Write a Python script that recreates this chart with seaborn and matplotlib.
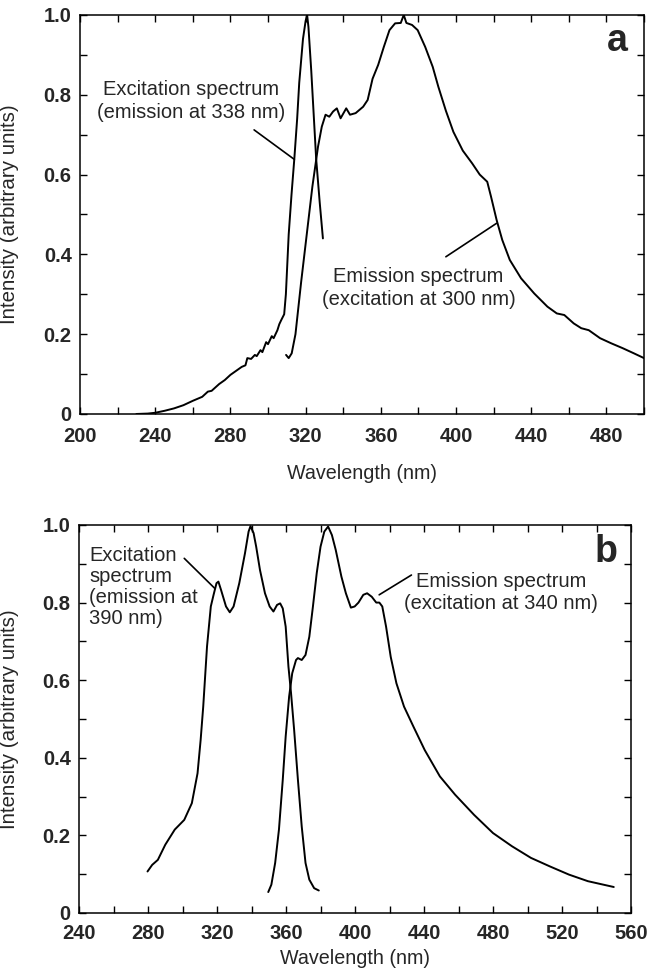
import pandas as pd
import seaborn as sns
import matplotlib.pyplot as plt
from matplotlib.ticker import MultipleLocator, FuncFormatter

# panel a: excitation (emission at 338 nm)
a_exc_x = [230, 236, 240, 245, 250, 255, 260, 265, 268, 270, 274, 277, 280, 283, 286, 288,
           289, 291, 293, 294, 296, 297, 299, 300, 302, 303, 305, 306, 307, 308.6, 309.5,
           311, 312.5, 314, 315.5, 316.6, 318.6, 320, 320.8, 321.5, 323, 325.6, 327.5, 329.2]
a_exc_y = [0.0, 0.001, 0.003, 0.008, 0.014, 0.022, 0.033, 0.043, 0.056, 0.058, 0.075, 0.085,
           0.098, 0.108, 0.118, 0.122, 0.14, 0.138, 0.148, 0.145, 0.16, 0.155, 0.18, 0.175,
           0.195, 0.19, 0.21, 0.225, 0.235, 0.25, 0.30, 0.45, 0.55, 0.64, 0.74, 0.83, 0.94,
           0.985, 1.0, 0.97, 0.86, 0.64, 0.53, 0.44]

# panel a: emission (excitation at 300 nm)
a_em_x = [309.6, 311, 312.6, 314.6, 317.6, 320.6, 323.6, 326.6, 328.6, 330.6, 332.6, 334.6,
          336.6, 338.6, 341.6, 343.6, 346.6, 350.6, 353, 355.6, 358.6, 361.6, 364.6, 367.6,
          370.6, 372.2, 373.6, 376.6, 379.6, 383.6, 387.6, 390.6, 394.6, 398.6, 403.6, 408.6,
          412.6, 416.6, 418.6, 421.6, 424.6, 428.6, 434.6, 441.6, 448.6, 453.6, 457.6, 462.6,
          466.6, 470.6, 476.6, 482.6, 488.6, 494.6, 500]
a_em_y = [0.148, 0.14, 0.152, 0.2, 0.33, 0.45, 0.57, 0.67, 0.72, 0.75, 0.745, 0.758, 0.766,
          0.741, 0.766, 0.75, 0.754, 0.77, 0.787, 0.84, 0.875, 0.92, 0.962, 0.979, 0.98, 1.0,
          0.98, 0.975, 0.962, 0.92, 0.87, 0.82, 0.76, 0.707, 0.66, 0.628, 0.6, 0.582, 0.545,
          0.486, 0.436, 0.386, 0.34, 0.302, 0.269, 0.252, 0.248, 0.227, 0.215, 0.21, 0.19,
          0.177, 0.165, 0.152, 0.14]

# panel b: excitation (emission at 390 nm)
b_exc_x = [279.7, 282.4, 285.7, 290, 295.5, 301, 305.4, 308.7, 310.5, 312, 314.2, 316.4, 318,
           319.7, 320.8, 322.3, 325.2, 327.4, 329.6, 332.9, 336.2, 338.3, 339.4, 341.2, 342.7,
           344.9, 347.8, 350.5, 352.7, 354.8, 356.6, 358.1, 359.8, 361.4, 362.9, 364.7, 366.9,
           369.1, 371.3, 373.5, 376.3, 379]
b_exc_y = [0.107, 0.124, 0.137, 0.176, 0.215, 0.24, 0.283, 0.36, 0.446, 0.532, 0.687, 0.79,
           0.82, 0.85, 0.854, 0.833, 0.79, 0.775, 0.79, 0.85, 0.927, 0.983, 0.997, 0.979, 0.944,
           0.884, 0.824, 0.79, 0.777, 0.794, 0.798, 0.785, 0.738, 0.635, 0.567, 0.472, 0.343,
           0.223, 0.129, 0.086, 0.064, 0.058]

# panel b: emission (excitation at 340 nm)
b_em_x = [349.7, 351.5, 353.7, 355.9, 358.1, 359.8, 361.8, 363.6, 365.8, 366.9, 369.1, 371.3,
          373.5, 375.6, 377.8, 380, 382.2, 384.4, 386.6, 388.8, 392.1, 394.7, 397.6, 399.8, 402,
          404.8, 407, 409.7, 412.3, 414.1, 415.8, 418, 420.7, 424, 428.4, 433.9, 440.4, 449.2,
          458, 469, 480, 491, 502, 513, 524, 535, 550]
b_em_y = [0.054, 0.073, 0.129, 0.215, 0.343, 0.455, 0.558, 0.618, 0.652, 0.657, 0.652, 0.665,
          0.712, 0.79, 0.876, 0.944, 0.983, 0.996, 0.974, 0.936, 0.867, 0.824, 0.787, 0.79, 0.80,
          0.82, 0.824, 0.815, 0.80, 0.80, 0.79, 0.738, 0.66, 0.592, 0.532, 0.48, 0.42, 0.352,
          0.305, 0.253, 0.206, 0.172, 0.142, 0.12, 0.099, 0.082, 0.067]

sns.set_style('ticks')
plt.rcParams['font.family'] = ['Liberation Sans', 'DejaVu Sans']

fig = plt.figure(figsize=(6.51, 9.72), dpi=100)
ax_a = fig.add_axes([0.1229, 0.5741, 0.8664, 0.4105])
ax_b = fig.add_axes([0.1214, 0.0607, 0.8479, 0.3992])


def style_axis(ax, xlim, xpad, labelpad, ylab_x):
    ax.set_xlim(*xlim)
    ax.set_ylim(0, 1.0)
    ax.xaxis.set_major_locator(MultipleLocator(40))
    ax.xaxis.set_minor_locator(MultipleLocator(20))
    ax.yaxis.set_major_locator(MultipleLocator(0.2))
    ax.yaxis.set_minor_locator(MultipleLocator(0.1))
    ax.yaxis.set_major_formatter(FuncFormatter(lambda v, p: '0' if abs(v) < 1e-9 else f'{v:.1f}'))
    ax.tick_params(which='both', direction='in', top=True, right=True, length=5,
                   width=1.0, color='black')
    ax.tick_params(which='major', labelsize=14.5)
    ax.tick_params(axis='x', which='major', pad=xpad)
    ax.tick_params(axis='y', which='major', pad=6)
    for sp in ax.spines.values():
        sp.set_linewidth(1.1)
        sp.set_color('black')
    ax.set_xlabel('Wavelength (nm)', fontsize=14.2, labelpad=labelpad)
    ax.set_ylabel('Intensity (arbitrary units)', fontsize=14.8)
    ax.yaxis.set_label_coords(ylab_x, 0.5)


for x, y in [(a_exc_x, a_exc_y), (a_em_x, a_em_y)]:
    sns.lineplot(data=pd.DataFrame({'wl': x, 'I': y}), x='wl', y='I', ax=ax_a,
                 color='black', lw=1.4, sort=False, estimator=None)
for x, y in [(b_exc_x, b_exc_y), (b_em_x, b_em_y)]:
    sns.lineplot(data=pd.DataFrame({'wl': x, 'I': y}), x='wl', y='I', ax=ax_b,
                 color='black', lw=1.4, sort=False, estimator=None)

style_axis(ax_a, (200, 500), 9.5, 13, -0.108)
style_axis(ax_b, (240, 560), 8, 4.5, -0.109)
ax_a.set_xticks([200, 240, 280, 320, 360, 400, 440, 480])
ax_a.set_xticks(list(range(200, 501, 20)), minor=True)
for ax in (ax_a, ax_b):
    for lab in ax.get_xticklabels() + ax.get_yticklabels():
        lab.set_fontweight('bold')

# panel a annotations
ax_a.text(259, 0.785, 'Excitation spectrum\n(emission at 338 nm)', ha='center', va='center',
          fontsize=14.5, linespacing=1.25)
ax_a.plot([292.6, 314], [0.712, 0.638], color='black', lw=1.2)
ax_a.text(380, 0.315, 'Emission spectrum\n(excitation at 300 nm)', ha='center', va='center',
          fontsize=14.5, linespacing=1.25)
ax_a.plot([394.6, 421.6], [0.394, 0.478], color='black', lw=1.2)
ax_a.text(486, 0.935, 'a', ha='center', va='center', fontsize=27, fontweight='bold')

# panel b annotations
ax_b.text(246, 0.84, 'Excitation\nspectrum\n(emission at\n390 nm)', ha='left', va='center',
          fontsize=14.5, linespacing=1.15)
ax_b.plot([301, 318.6], [0.914, 0.837], color='black', lw=1.2)
ax_b.text(484.7, 0.826, 'Emission spectrum\n(excitation at 340 nm)', ha='center', va='center',
          fontsize=14.5, linespacing=1.25)
ax_b.plot([432.7, 414], [0.871, 0.82], color='black', lw=1.2)
ax_b.text(545.7, 0.93, 'b', ha='center', va='center', fontsize=27, fontweight='bold')

fig.savefig('out.png', dpi=100)
